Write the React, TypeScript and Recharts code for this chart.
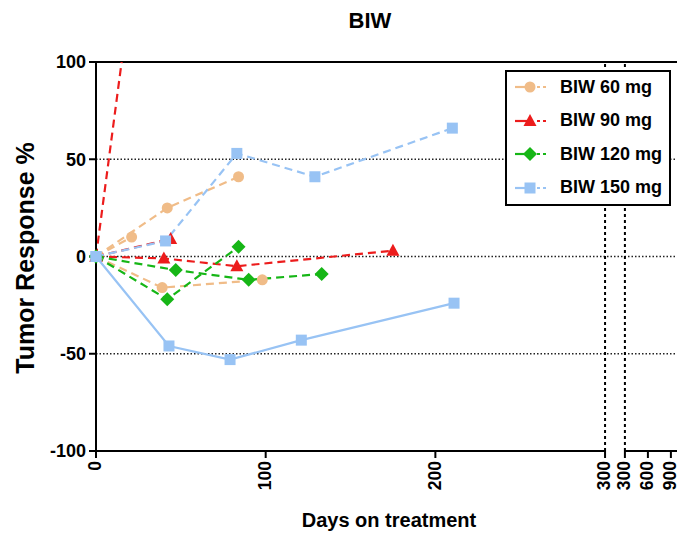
import { LineChart, Line, XAxis, YAxis, ReferenceLine } from "recharts";

// days on treatment / tumor response (%) per patient
const days60a = [0, 21];
const resp60a = [0, 10];
const days60b = [0, 42, 84];
const resp60b = [0, 25, 41];
const days60c = [0, 39, 98];
const resp60c = [0, -16, -12];

const days90a = [0, 21];
const resp90a = [0, 139];
const days90b = [0, 44];
const resp90b = [0, 9];
const days90c = [0, 40, 83, 175];
const resp90c = [0, -1, -5, 3];

const days120a = [0, 47, 90, 133];
const resp120a = [0, -7, -12, -9];
const days120b = [0, 42, 84];
const resp120b = [0, -22, 5];

const days150a = [0, 41, 83, 129, 210];
const resp150a = [0, 8, 53, 41, 66];
const days150b = [0, 43, 79, 121, 211];
const resp150b = [0, -46, -53, -43, -24];

const tickDays = [0, 100, 200, 300];
const lateTickDays = [300, 600, 900];
const yTicks = [-100, -50, 0, 50, 100];
const gridValues = [-50, 0, 50];

const ORANGE = "#F0BC88";
const RED = "#EC1C1C";
const GREEN = "#16B616";
const BLUE = "#98C3F4";
const FONT = '"Liberation Sans", Arial, sans-serif';

// broken x axis: 0-300 linear, then 300-900 squeezed after a gap
const LATE_START = 311.7;
const LATE_UNITS = 27.1 / 600;
const X_MAX = 342.4;
const latePos = (d: number) => LATE_START + (d - 300) * LATE_UNITS;

const xTicks = [
     ...tickDays.map((d) => ({ pos: d, label: String(d) })),
     ...lateTickDays.map((d) => ({ pos: latePos(d), label: String(d) })),
];

const toPoints = (days: number[], resp: number[]) =>
     days.map((d, i) => ({ day: d, value: resp[i] }));

type Shape = "circle" | "triangle" | "diamond" | "square";

const patients: {
     id: string;
     color: string;
     shape: Shape;
     dashed: boolean;
     clip?: boolean;
     data: { day: number; value: number }[];
}[] = [
     { id: "60a", color: ORANGE, shape: "circle", dashed: true, data: toPoints(days60a, resp60a) },
     { id: "60b", color: ORANGE, shape: "circle", dashed: true, data: toPoints(days60b, resp60b) },
     { id: "60c", color: ORANGE, shape: "circle", dashed: true, data: toPoints(days60c, resp60c) },
     { id: "90a", color: RED, shape: "triangle", dashed: true, clip: true, data: toPoints(days90a, resp90a) },
     { id: "90b", color: RED, shape: "triangle", dashed: true, data: toPoints(days90b, resp90b) },
     { id: "90c", color: RED, shape: "triangle", dashed: true, data: toPoints(days90c, resp90c) },
     { id: "120a", color: GREEN, shape: "diamond", dashed: true, data: toPoints(days120a, resp120a) },
     { id: "120b", color: GREEN, shape: "diamond", dashed: true, data: toPoints(days120b, resp120b) },
     { id: "150a", color: BLUE, shape: "square", dashed: true, data: toPoints(days150a, resp150a) },
     { id: "150b", color: BLUE, shape: "square", dashed: false, data: toPoints(days150b, resp150b) },
];

const legendItems: { label: string; color: string; shape: Shape }[] = [
     { label: "BIW 60 mg", color: ORANGE, shape: "circle" },
     { label: "BIW 90 mg", color: RED, shape: "triangle" },
     { label: "BIW 120 mg", color: GREEN, shape: "diamond" },
     { label: "BIW 150 mg", color: BLUE, shape: "square" },
];

function marker(shape: Shape, cx: number, cy: number, color: string, key?: string) {
     switch (shape) {
          case "circle":
               return <circle key={key} cx={cx} cy={cy} r={5.5} fill={color} />;
          case "triangle":
               return (
                    <polygon
                         key={key}
                         points={`${cx},${cy - 7} ${cx - 6.5},${cy + 5} ${cx + 6.5},${cy + 5}`}
                         fill={color}
                    />
               );
          case "diamond":
               return (
                    <polygon
                         key={key}
                         points={`${cx},${cy - 7} ${cx + 7},${cy} ${cx},${cy + 7} ${cx - 7},${cy}`}
                         fill={color}
                    />
               );
          default:
               return <rect key={key} x={cx - 5.5} y={cy - 5.5} width={11} height={11} fill={color} />;
     }
}

function XTick({ x, y, payload }: { x?: number; y?: number; payload?: { value: number } }) {
     const t = xTicks.find((k) => Math.abs(k.pos - (payload?.value ?? 0)) < 0.01);
     return (
          <g transform={`translate(${x},${y})`}>
               <line x1={0} y1={0} x2={0} y2={7} stroke="#000" strokeWidth={2} />
               <text
                    transform="rotate(-90)"
                    x={-10}
                    y={0}
                    dy="0.3em"
                    textAnchor="end"
                    fill="#000"
                    fontSize={17.5}
                    fontWeight={700}
                    fontFamily={FONT}
               >
                    {t?.label}
               </text>
          </g>
     );
}

export default function App() {
     return (
          <div
               style={{
                    position: "absolute",
                    left: 0,
                    top: 0,
                    width: 677,
                    height: 533,
                    background: "#fff",
                    fontFamily: FONT,
               }}
          >
               <LineChart
                    width={677}
                    height={533}
                    margin={{ top: 62, right: 0, left: 40, bottom: 32 }}
               >
                    <XAxis
                         type="number"
                         dataKey="day"
                         xAxisId="x"
                         domain={[0, X_MAX]}
                         ticks={xTicks.map((t) => t.pos)}
                         interval={0}
                         tick={<XTick />}
                         tickSize={0}
                         tickMargin={0}
                         tickLine={false}
                         axisLine={false}
                         height={50}
                    />
                    <YAxis
                         yAxisId="main"
                         type="number"
                         domain={[-100, 100]}
                         ticks={yTicks}
                         interval={0}
                         width={56}
                         tick={{ fill: "#000", fontSize: 18, fontWeight: 700, fontFamily: FONT }}
                         tickSize={7}
                         tickMargin={3}
                         tickLine={{ stroke: "#000", strokeWidth: 2 }}
                         axisLine={{ stroke: "#000", strokeWidth: 2 }}
                    />
                    <YAxis
                         yAxisId="clip"
                         orientation="right"
                         type="number"
                         domain={[-100, 100]}
                         allowDataOverflow
                         width={0}
                         hide
                    />
                    {gridValues.map((v) => (
                         <ReferenceLine
                              key={`g${v}`}
                              xAxisId="x"
                              yAxisId="main"
                              y={v}
                              stroke="#222"
                              strokeWidth={1.3}
                              strokeDasharray="1.5 2"
                         />
                    ))}
                    <ReferenceLine xAxisId="x" yAxisId="main" y={100} stroke="#000" strokeWidth={2} />
                    <ReferenceLine
                         xAxisId="x"
                         yAxisId="main"
                         segment={[
                              { x: 0, y: -100 },
                              { x: 300, y: -100 },
                         ]}
                         stroke="#000"
                         strokeWidth={2}
                    />
                    <ReferenceLine
                         xAxisId="x"
                         yAxisId="main"
                         segment={[
                              { x: LATE_START, y: -100 },
                              { x: X_MAX, y: -100 },
                         ]}
                         stroke="#000"
                         strokeWidth={2}
                    />
                    <ReferenceLine
                         xAxisId="x"
                         yAxisId="main"
                         x={300}
                         stroke="#000"
                         strokeWidth={2}
                         strokeDasharray="3 3"
                    />
                    <ReferenceLine
                         xAxisId="x"
                         yAxisId="main"
                         x={LATE_START}
                         stroke="#000"
                         strokeWidth={2}
                         strokeDasharray="3 3"
                    />
                    {patients.map((p) => (
                         <Line
                              key={p.id}
                              xAxisId="x"
                              yAxisId={p.clip ? "clip" : "main"}
                              data={p.data}
                              dataKey="value"
                              stroke={p.color}
                              strokeWidth={2.2}
                              strokeDasharray={p.dashed ? "8 5" : undefined}
                              dot={(props: { cx?: number; cy?: number; index?: number }) =>
                                   marker(p.shape, props.cx ?? 0, props.cy ?? 0, p.color, `${p.id}-${props.index}`)
                              }
                              activeDot={false}
                              isAnimationActive={false}
                         />
                    ))}
               </LineChart>

               <div
                    style={{
                         position: "absolute",
                         left: 370,
                         top: 21,
                         transform: "translate(-50%, -50%)",
                         fontSize: 22,
                         fontWeight: 700,
                    }}
               >
                    BIW
               </div>
               <div
                    style={{
                         position: "absolute",
                         left: 25,
                         top: 258,
                         transform: "translate(-50%, -50%) rotate(-90deg)",
                         fontSize: 25,
                         fontWeight: 700,
                         whiteSpace: "nowrap",
                    }}
               >
                    Tumor Response %
               </div>
               <div
                    style={{
                         position: "absolute",
                         left: 389,
                         top: 520,
                         transform: "translate(-50%, -50%)",
                         fontSize: 20,
                         fontWeight: 700,
                         whiteSpace: "nowrap",
                    }}
               >
                    Days on treatment
               </div>

               <div
                    style={{
                         position: "absolute",
                         left: 505,
                         top: 70,
                         width: 166,
                         height: 136,
                         boxSizing: "border-box",
                         border: "2px solid #000",
                         background: "#fff",
                    }}
               >
                    {legendItems.map((item, i) => (
                         <div
                              key={item.label}
                              style={{
                                   position: "absolute",
                                   left: 0,
                                   top: 15 + i * 33.5 - 11,
                                   height: 22,
                                   display: "flex",
                                   alignItems: "center",
                              }}
                         >
                              <svg width={53} height={22} style={{ display: "block" }}>
                                   <line x1={8} y1={11} x2={23} y2={11} stroke={item.color} strokeWidth={2.2} />
                                   <line
                                        x1={30}
                                        y1={11}
                                        x2={41}
                                        y2={11}
                                        stroke={item.color}
                                        strokeWidth={2.2}
                                        strokeDasharray="3 3"
                                   />
                                   {marker(item.shape, 23, 11, item.color)}
                              </svg>
                              <span style={{ fontSize: 18, fontWeight: 700, whiteSpace: "nowrap" }}>
                                   {item.label}
                              </span>
                         </div>
                    ))}
               </div>
          </div>
     );
}
